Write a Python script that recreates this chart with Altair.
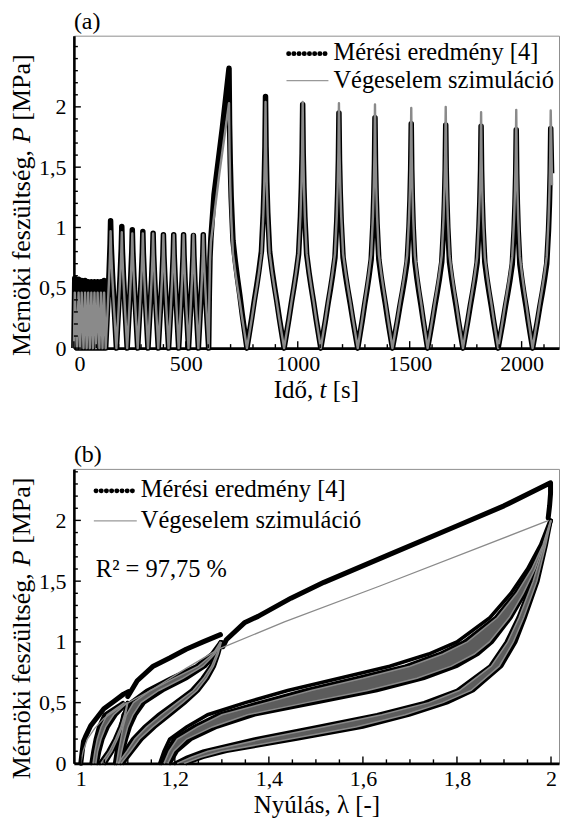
import altair as alt
import pandas as pd

FONT = "Liberation Serif"
INK = "#000000"
SIM = "#8a8a8a"

# ---------------- (a) stress history ----------------
seg1_min_t = [0, 14, 28, 43, 57, 71, 85, 99, 114, 128, 142]
seg1_peak_t = [4, 21, 35, 50, 64, 78, 92, 106, 121, 135]
seg1_peak_meas = [0.58, 0.57, 0.56, 0.56, 0.55, 0.55, 0.55, 0.55, 0.55, 0.56]
seg1_peak_sim = [0.46, 0.46, 0.46, 0.46, 0.46, 0.46, 0.46, 0.46, 0.46, 0.46]

seg2_min_t = [142, 190, 238, 285, 331, 377, 423, 468, 512, 556, 602]
seg2_peak_t = [164, 214, 261, 308, 354, 400, 446, 490, 534, 578]
seg2_peak_meas = [1.055, 1.008, 0.981, 0.967, 0.953, 0.94, 0.94, 0.94, 0.934, 0.94]
seg2_peak_sim = [0.97, 0.96, 0.95, 0.95, 0.95, 0.94, 0.94, 0.94, 0.94, 0.94]

ramp_t_meas = [602, 605, 608, 612, 626, 663, 693]
ramp_p_meas = [0.0, 0.45, 0.75, 0.91, 1.27, 1.82, 2.32]
ramp_t_sim = [602, 605, 608, 612, 650, 693]
ramp_p_sim = [0.0, 0.42, 0.72, 0.88, 1.45, 2.03]

seg3_peak_t = [693, 856, 1022, 1184, 1345, 1507, 1661, 1819, 1976, 2130]
seg3_min_t = [773, 939, 1103, 1268, 1423, 1580, 1738, 1895, 2049]
seg3_peak_meas = [2.32, 2.085, 2.02, 1.95, 1.91, 1.86, 1.85, 1.84, 1.81, 1.82]
seg3_peak_sim = [2.03, 2.04, 2.04, 2.03, 2.02, 1.99, 2.0, 1.955, 1.975, 1.97]
tail_t_meas = [2134]
tail_p_meas = [1.45]
tail_t_sim = [2136]
tail_p_sim = [1.35]

# half-cycle shapes: share of half-cycle time from the peak -> share of peak stress
tri_d = [0.0, 1.0]
tri_s = [1.0, 0.0]
shape2_d = [0.0, 0.1, 0.3, 0.6, 1.0]
shape2_s = [1.0, 0.82, 0.6, 0.33, 0.0]
shape3_d = [0.0, 0.03, 0.07, 0.12, 0.22, 0.35, 0.47, 0.6, 0.74, 0.87, 1.0]
shape3_s = [1.0, 0.8, 0.66, 0.54, 0.385, 0.31, 0.25, 0.19, 0.12, 0.06, 0.0]

# ---------------- (b) stress - stretch ----------------
pl1_l = [1.0, 1.003, 1.0057, 1.01, 1.021, 1.035, 1.049, 1.07, 1.091, 1.101]
pl1_p = [0.0, 0.1, 0.18, 0.22, 0.31, 0.38, 0.45, 0.51, 0.57, 0.59]
pl2_l = [1.1, 1.12, 1.154, 1.19, 1.224, 1.26, 1.297]
pl2_p = [0.55, 0.68, 0.8, 0.87, 0.94, 1.0, 1.06]
pl3_l = [1.302, 1.31, 1.349, 1.377, 1.447, 1.517, 1.657, 1.797, 1.9, 1.999, 1.999, 1.997, 1.994]
pl3_p = [0.96, 1.02, 1.16, 1.21, 1.36, 1.49, 1.72, 1.95, 2.12, 2.31, 2.22, 2.12, 2.02]

sl_l = [1.0, 1.005, 1.014, 1.03, 1.049, 1.075, 1.101, 1.153, 1.223, 1.293, 1.433, 1.636, 1.995]
sl_p = [0.0, 0.1, 0.2, 0.29, 0.37, 0.44, 0.5, 0.61, 0.78, 0.94, 1.165, 1.46, 2.0]

# loop bands (stress levels, stretch at band's left and right edge)
a_p = [0.0, 0.1, 0.2, 0.3, 0.4, 0.5]
a_up_left = [1.022, 1.026, 1.031, 1.038, 1.05, 1.09]
a_up_right = [1.035, 1.04, 1.047, 1.058, 1.075, 1.1]
a_lo_left = [1.04, 1.058, 1.072, 1.083, 1.092, 1.099]
a_lo_right = [1.052, 1.068, 1.08, 1.09, 1.096, 1.1]
a_ups_left = [1.026, 1.03, 1.035, 1.043, 1.056, 1.093]
a_ups_right = [1.032, 1.036, 1.043, 1.053, 1.07, 1.099]
a_los_left = [1.043, 1.061, 1.074, 1.085, 1.093, 1.099]
a_los_right = [1.049, 1.066, 1.078, 1.088, 1.095, 1.1]

b_p = [0.0, 0.1, 0.2, 0.3, 0.4, 0.5, 0.6, 0.7, 0.8, 0.9, 1.0]
b_up_left = [1.072, 1.076, 1.08, 1.085, 1.09, 1.105, 1.14, 1.19, 1.245, 1.278, 1.297]
b_up_right = [1.085, 1.09, 1.097, 1.105, 1.117, 1.135, 1.175, 1.225, 1.265, 1.288, 1.299]
b_lo_left = [1.075, 1.093, 1.11, 1.135, 1.165, 1.2, 1.235, 1.258, 1.276, 1.288, 1.297]
b_lo_right = [1.09, 1.11, 1.13, 1.158, 1.19, 1.222, 1.25, 1.27, 1.284, 1.293, 1.3]
b_ups_left = [1.076, 1.08, 1.085, 1.09, 1.097, 1.112, 1.148, 1.198, 1.25, 1.281, 1.297]
b_ups_right = [1.082, 1.087, 1.093, 1.1, 1.111, 1.128, 1.166, 1.217, 1.26, 1.285, 1.298]
b_los_left = [1.079, 1.098, 1.115, 1.14, 1.171, 1.205, 1.239, 1.261, 1.278, 1.289, 1.297]
b_los_right = [1.086, 1.106, 1.125, 1.153, 1.185, 1.217, 1.247, 1.267, 1.282, 1.292, 1.299]

c_up_p = [0.0, 0.1, 0.2, 0.3, 0.4, 0.5, 0.6, 0.7, 0.8, 0.9, 1.0, 1.2, 1.4, 1.6, 1.8, 2.0]
c_first_l = [1.168, 1.177, 1.189, 1.225, 1.27, 1.35, 1.44, 1.55, 1.657, 1.74, 1.8, 1.87, 1.915, 1.95, 1.978, 1.998]
c_up_left = [1.172, 1.183, 1.198, 1.24, 1.292, 1.38, 1.475, 1.585, 1.69, 1.762, 1.815, 1.882, 1.924, 1.957, 1.982, 1.999]
c_up_right = [1.19, 1.205, 1.235, 1.29, 1.37, 1.5, 1.63, 1.73, 1.8, 1.845, 1.875, 1.915, 1.945, 1.968, 1.985, 2.0]
c_ups_left = [1.177, 1.188, 1.205, 1.248, 1.3, 1.395, 1.49, 1.6, 1.7, 1.77, 1.822, 1.886, 1.927, 1.959, 1.983, 1.999]
c_ups_right = [1.185, 1.198, 1.225, 1.28, 1.355, 1.48, 1.61, 1.715, 1.788, 1.837, 1.869, 1.911, 1.941, 1.966, 1.984, 2.0]

c_lo_p = [0.0, 0.05, 0.1, 0.2, 0.3, 0.4, 0.5, 0.6, 0.8, 1.0, 1.2, 1.5, 1.8, 2.0]
c_lo_left = [1.2, 1.225, 1.26, 1.37, 1.5, 1.63, 1.73, 1.8, 1.87, 1.905, 1.93, 1.96, 1.985, 2.0]
c_lo_right = [1.225, 1.26, 1.31, 1.46, 1.6, 1.7, 1.78, 1.835, 1.895, 1.925, 1.945, 1.972, 1.99, 2.0]
c_los_left = [1.205, 1.235, 1.27, 1.385, 1.515, 1.64, 1.74, 1.805, 1.873, 1.908, 1.932, 1.962, 1.986, 2.0]
c_los_right = [1.22, 1.255, 1.3, 1.445, 1.585, 1.69, 1.77, 1.83, 1.89, 1.92, 1.942, 1.97, 1.989, 2.0]

# axis tick values
a_xticks = [0, 500, 1000, 1500, 2000]
a_xminor = [100, 200, 300, 400, 600, 700, 800, 900, 1100, 1200, 1300, 1400, 1600, 1700, 1800, 1900, 2100]
a_yticks = [0, 0.5, 1, 1.5, 2]
a_yminor = [0.1, 0.2, 0.3, 0.4, 0.6, 0.7, 0.8, 0.9, 1.1, 1.2, 1.3, 1.4, 1.6, 1.7, 1.8, 1.9, 2.1, 2.2, 2.3, 2.4, 2.5]
b_xticks = [1, 1.2, 1.4, 1.6, 1.8, 2]
b_xminor = [1.05, 1.1, 1.15, 1.25, 1.3, 1.35, 1.45, 1.5, 1.55, 1.65, 1.7, 1.75, 1.85, 1.9, 1.95]
b_yticks = [0, 0.5, 1, 1.5, 2]
b_yminor = [0.1, 0.2, 0.3, 0.4, 0.6, 0.7, 0.8, 0.9, 1.1, 1.2, 1.3, 1.4, 1.6, 1.7, 1.8, 1.9, 2.1, 2.2, 2.3, 2.4]

# axis title pieces (plain, italic, plain)
ytitle_parts = ["Mérnöki feszültség,", "P", "[MPa]"]
xtitle_a_parts = ["Idő,", "t", "[s]"]
xtitle_b = "Nyúlás, λ [-]"


def half(tp, tm, peak, dd, ss):
    return [(tp + d * (tm - tp), s * peak) for d, s in zip(dd, ss)]


def cyc_series(min_t, peak_t, peaks, dd, ss):
    out = [(min_t[0], 0.0)]
    for k, (tp, pk) in enumerate(zip(peak_t, peaks)):
        out += half(tp, min_t[k], pk, dd, ss)[::-1][1:]
        out += half(tp, min_t[k + 1], pk, dd, ss)[1:]
    return out


def seg3_series(rt, rp, peaks):
    out = list(zip(rt, rp))
    for k in range(len(seg3_min_t)):
        out += half(seg3_peak_t[k], seg3_min_t[k], peaks[k], shape3_d, shape3_s)[1:]
        out += half(seg3_peak_t[k + 1], seg3_min_t[k], peaks[k + 1], shape3_d, shape3_s)[::-1][1:]
    return out


def to_df(points, name):
    return pd.DataFrame({"x": [p[0] for p in points], "y": [p[1] for p in points],
                         "i": list(range(len(points))), "g": name})


meas_pts = (cyc_series(seg1_min_t, seg1_peak_t, seg1_peak_meas, tri_d, tri_s)
            + cyc_series(seg2_min_t, seg2_peak_t, seg2_peak_meas, shape2_d, shape2_s)[1:]
            + seg3_series(ramp_t_meas, ramp_p_meas, seg3_peak_meas)[1:]
            + list(zip(tail_t_meas, tail_p_meas)))
sim_pts = (cyc_series(seg1_min_t, seg1_peak_t, seg1_peak_sim, tri_d, tri_s)
           + cyc_series(seg2_min_t, seg2_peak_t, seg2_peak_sim, shape2_d, shape2_s)[1:]
           + seg3_series(ramp_t_sim, ramp_p_sim, seg3_peak_sim)[1:]
           + list(zip(tail_t_sim, tail_p_sim)))
df_a_meas = to_df(meas_pts, "meas")
df_a_sim = to_df(sim_pts, "sim")


def lines_df(items):
    frames = []
    for name, ls, ps in items:
        frames.append(pd.DataFrame({"x": ls, "y": ps, "i": list(range(len(ls))), "g": name}))
    return pd.concat(frames, ignore_index=True)


def bands_df(items):
    frames = []
    for name, ps, left, right in items:
        frames.append(pd.DataFrame({"y": ps, "x": left, "x2": right, "g": name}))
    return pd.concat(frames, ignore_index=True)


meas_bands = [("aU", a_p, a_up_left, a_up_right), ("aL", a_p, a_lo_left, a_lo_right),
              ("bU", b_p, b_up_left, b_up_right), ("bL", b_p, b_lo_left, b_lo_right),
              ("cU", c_up_p, c_up_left, c_up_right), ("cL", c_lo_p, c_lo_left, c_lo_right)]
sim_bands = [("aU", a_p, a_ups_left, a_ups_right), ("aL", a_p, a_los_left, a_los_right),
             ("bU", b_p, b_ups_left, b_ups_right), ("bL", b_p, b_los_left, b_los_right),
             ("cU", c_up_p, c_ups_left, c_ups_right), ("cL", c_lo_p, c_los_left, c_los_right)]
df_mb = bands_df(meas_bands)
df_sb = bands_df(sim_bands)
meas_edges = [("cF", c_first_l, c_up_p)]
sim_edges = []
for name, ps, left, right in meas_bands:
    meas_edges += [(name + "l", left, ps), (name + "r", right, ps)]
for name, ps, left, right in sim_bands:
    sim_edges += [(name + "l", left, ps), (name + "r", right, ps)]
df_me = lines_df(meas_edges)
df_se = lines_df(sim_edges)
df_bp = lines_df([("p1", pl1_l, pl1_p), ("p2", pl2_l, pl2_p), ("p3", pl3_l, pl3_p)])
df_bs = lines_df([("s1", sl_l, sl_p)])

ONE = pd.DataFrame({"k": [0]})
LBL = "replace(toString(datum.value), '.', ',')"


def make_axes(xdom, ydom, xvals, yvals, xtitle):
    X = alt.X("x:Q", scale=alt.Scale(domain=xdom, nice=False, zero=False),
              axis=alt.Axis(values=xvals, title=xtitle, labelExpr=LBL))
    Y = alt.Y("y:Q", scale=alt.Scale(domain=ydom, nice=False, zero=False),
              axis=alt.Axis(values=yvals, title=None, labelExpr=LBL))
    return X, Y


def tick_layers(X, Y, xmaj, xmin, ymaj, ymin, h):
    L = []
    for vals, ln in ((ymaj, 7), (ymin, 4)):
        L.append(alt.Chart(pd.DataFrame({"y": vals})).mark_rule(color=INK, strokeWidth=1.4)
                 .encode(y=Y, x=alt.value(0), x2=alt.value(ln)))
    for vals, ln in ((xmaj, 7), (xmin, 4)):
        L.append(alt.Chart(pd.DataFrame({"x": vals})).mark_rule(color=INK, strokeWidth=1.4)
                 .encode(x=X, y=alt.value(h), y2=alt.value(h - ln)))
    return L


def text_layer(x, y, txt, size, italic=False, angle=0, baseline="middle"):
    kw = dict(font=FONT, fontSize=size, align="left", baseline=baseline, color=INK)
    if italic:
        kw["fontStyle"] = "italic"
    if angle:
        kw["angle"] = angle
    return alt.Chart(ONE).mark_text(**kw).encode(x=alt.value(x), y=alt.value(y), text=alt.value(txt))


def ytitle_layers(y0):
    # rotated title, read bottom-to-top; italic symbol in the middle (Times metrics, 26px)
    return [text_layer(-52, y0, ytitle_parts[0], 26, angle=270),
            text_layer(-52, y0 - 213.5, ytitle_parts[1], 26, italic=True, angle=270),
            text_layer(-52, y0 - 213.5 - 22.4, ytitle_parts[2], 26, angle=270)]


def legend_layers(x0, x1, xt, y1, y2, extra=None):
    L = [
        alt.Chart(ONE).mark_rule(color=INK, strokeWidth=4.6, strokeCap="round", strokeDash=[0.4, 4.8])
        .encode(x=alt.value(x0 + 2), x2=alt.value(x1), y=alt.value(y1)),
        alt.Chart(ONE).mark_rule(color="#999999", strokeWidth=1.3)
        .encode(x=alt.value(x0), x2=alt.value(x1), y=alt.value(y2)),
        text_layer(xt, y1 - 1, "Mérési eredmény [4]", 24.5),
        text_layer(xt, y2, "Végeselem szimuláció", 24.5),
    ]
    if extra:
        L.append(text_layer(extra[0], extra[1], extra[2], 24.5))
    return L


# ---------- panel (a) ----------
WA, HA = 486, 313
Xa, Ya = make_axes([0, 2167], [0, 2.59], a_xticks, a_yticks, None)
xa0 = WA / 2 - 42.7
a_layers = [
    alt.Chart(df_a_meas).mark_line(color=INK, strokeWidth=5.5, strokeJoin="round")
    .encode(x=Xa, y=Ya, order="i:Q"),
    alt.Chart(df_a_sim).mark_line(color=SIM, strokeWidth=2.4, strokeJoin="round")
    .encode(x=Xa, y=Ya, order="i:Q"),
] + tick_layers(Xa, Ya, a_xticks, a_xminor, a_yticks, a_yminor, HA) + legend_layers(213, 255, 260, 18, 45) + [
    text_layer(xa0, HA + 50, xtitle_a_parts[0], 25, baseline="alphabetic"),
    text_layer(xa0 + 45.8, HA + 50, xtitle_a_parts[1], 25, italic=True, baseline="alphabetic"),
    text_layer(xa0 + 59.0, HA + 50, xtitle_a_parts[2], 25, baseline="alphabetic"),
] + ytitle_layers(HA + 8)

panel_a = alt.layer(*a_layers).properties(
    width=WA, height=HA,
    title=alt.TitleParams("(a)", anchor="start", frame="group", font=FONT, fontSize=24,
                          fontWeight="normal", offset=2, color=INK))

# ---------- panel (b) ----------
WB, HB = 486, 295
Xb, Yb = make_axes([0.9853, 2.017], [0, 2.424], b_xticks, b_yticks, xtitle_b)
X2b = alt.X2("x2")
b_layers = [
    alt.Chart(df_mb).mark_area(orient="horizontal", color=INK)
    .encode(y=Yb, x=Xb, x2=X2b, detail="g:N"),
    alt.Chart(df_me).mark_line(color=INK, strokeWidth=3.6, strokeCap="round")
    .encode(x=Xb, y=Yb, detail="g:N", order="i:Q"),
    alt.Chart(df_bp).mark_line(color=INK, strokeWidth=5, strokeCap="round", strokeJoin="round")
    .encode(x=Xb, y=Yb, detail="g:N", order="i:Q"),
    alt.Chart(df_sb).mark_area(orient="horizontal", color="#5c5c5c")
    .encode(y=Yb, x=Xb, x2=X2b, detail="g:N"),
    alt.Chart(df_se).mark_line(color=SIM, strokeWidth=1.5)
    .encode(x=Xb, y=Yb, detail="g:N", order="i:Q"),
    alt.Chart(df_bs).mark_line(color=SIM, strokeWidth=1.3)
    .encode(x=Xb, y=Yb, detail="g:N", order="i:Q"),
] + tick_layers(Xb, Yb, b_xticks, b_xminor, b_yticks, b_yminor, HB) + legend_layers(
    20, 63, 67, 22, 52, extra=(22, 101, "R² = 97,75 %")) + ytitle_layers(HB + 16)

panel_b = alt.layer(*b_layers).properties(
    width=WB, height=HB,
    title=alt.TitleParams("(b)", anchor="start", frame="group", font=FONT, fontSize=24,
                          fontWeight="normal", offset=2, color=INK))

chart = alt.vconcat(panel_a, panel_b, spacing=38).properties(padding=0).configure_view(
    stroke="#8f8f8f", strokeWidth=1
).configure_axis(
    grid=False, ticks=False, domainColor=INK, domainWidth=2.6, zindex=1,
    labelFont=FONT, labelFontSize=22, labelColor=INK, labelPadding=5,
    titleFont=FONT, titleFontSize=25, titleFontWeight="normal", titleColor=INK, titlePadding=3,
).configure_axisY(labelPadding=8)

chart.save("out.html", embed_options={"renderer": "svg", "actions": False})
